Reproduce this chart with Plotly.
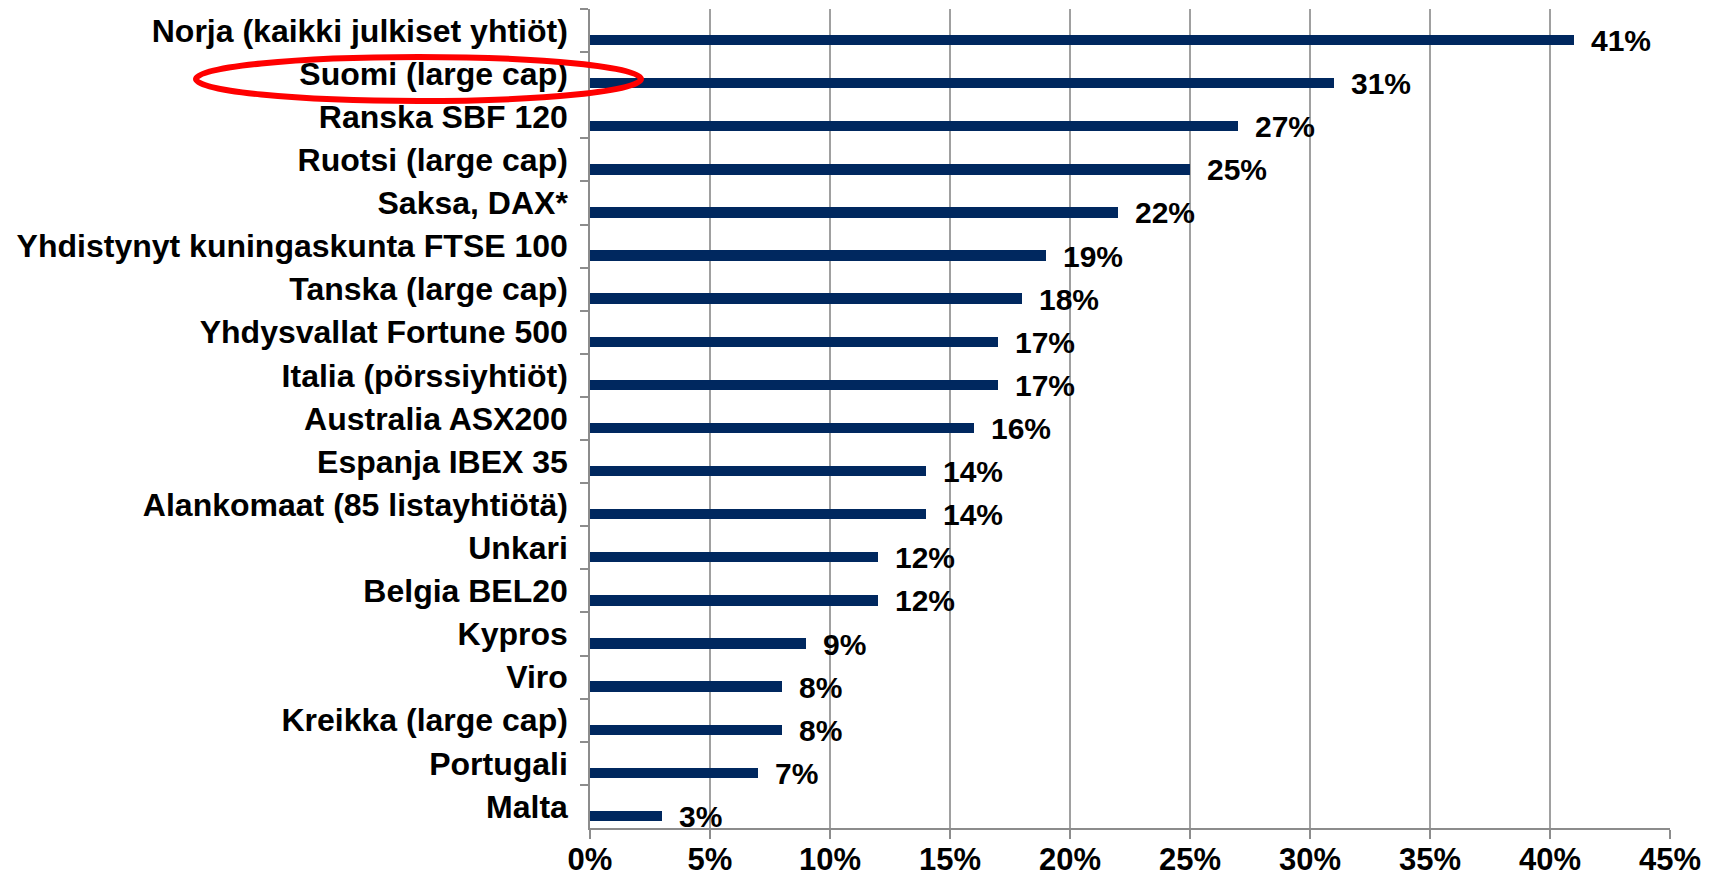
import plotly.graph_objects as go

categories = [
    "Norja (kaikki julkiset yhtiöt)",
    "Suomi (large cap)",
    "Ranska SBF 120",
    "Ruotsi (large cap)",
    "Saksa, DAX*",
    "Yhdistynyt kuningaskunta FTSE 100",
    "Tanska (large cap)",
    "Yhdysvallat Fortune 500",
    "Italia (pörssiyhtiöt)",
    "Australia ASX200",
    "Espanja IBEX 35",
    "Alankomaat (85 listayhtiötä)",
    "Unkari",
    "Belgia BEL20",
    "Kypros",
    "Viro",
    "Kreikka (large cap)",
    "Portugali",
    "Malta",
]
values = [41, 31, 27, 25, 22, 19, 18, 17, 17, 16, 14, 14, 12, 12, 9, 8, 8, 7, 3]
x_ticks = [0, 5, 10, 15, 20, 25, 30, 35, 40, 45]
x_tick_labels = [f"{v}%" for v in x_ticks]

FONT = "Arial, Liberation Sans, sans-serif"
W, H = 1717, 881
ML, MR, MT, MB = 590, 47, 9, 53
PW, PH = W - ML - MR, H - MT - MB

fig = go.Figure()
fig.add_trace(go.Bar(
    x=values, y=categories, orientation="h",
    marker=dict(color="#00285F", line=dict(width=0)),
    width=0.24, offset=0.10,
    hoverinfo="x+y",
))

for c, v in zip(categories, values):
    fig.add_annotation(
        x=v, y=c, xref="x", yref="y", text=f"{v}%", showarrow=False,
        xanchor="left", yanchor="middle", xshift=15, yshift=-10,
        font=dict(family=FONT, size=30, color="#000000", weight="bold"),
    )

# red ellipse around highlighted label (pixel positions converted to paper)
def px_to_paper_x(px):
    return (px - ML) / PW

def px_to_paper_y(py):
    return 1 - (py - MT) / PH

fig.add_shape(
    type="circle", xref="paper", yref="paper",
    x0=px_to_paper_x(196), x1=px_to_paper_x(641),
    y0=px_to_paper_y(101), y1=px_to_paper_y(57),
    line=dict(color="#FF0000", width=6), fillcolor="rgba(0,0,0,0)",
    layer="above",
)

fig.update_layout(
    width=W, height=H,
    margin=dict(l=ML, r=MR, t=MT, b=MB, pad=0, autoexpand=False),
    paper_bgcolor="white", plot_bgcolor="white",
    showlegend=False,
    bargap=0,
    font=dict(family=FONT, color="#000000"),
)
fig.update_xaxes(
    range=[0, 45], tickvals=x_ticks, ticktext=x_tick_labels,
    showgrid=True, gridcolor="#A0A0A0", gridwidth=1.5,
    showline=True, linecolor="#8C8C8C", linewidth=1.5,
    ticks="outside", ticklen=9, tickcolor="#8C8C8C", tickwidth=1.5,
    tickfont=dict(family=FONT, size=31, color="#000000", weight="bold"),
    ticklabelstandoff=-6, automargin=False,
    zeroline=False, fixedrange=True,
)
fig.update_yaxes(
    categoryorder="array", categoryarray=categories,
    range=[len(categories) - 0.5, -0.5],
    showgrid=False, showline=True, linecolor="#8C8C8C", linewidth=1.5,
    ticks="outside", ticklen=8, tickcolor="#8C8C8C", tickwidth=1.5,
    tickson="boundaries",
    tickfont=dict(family=FONT, size=32, color="#000000", weight="bold"),
    ticklabelstandoff=14, automargin=False,
    zeroline=False, fixedrange=True,
)

fig.write_html(
    "out.html",
    config={"displayModeBar": False},
    post_script="document.body.style.margin='0';document.body.style.padding='0';document.documentElement.style.overflow='hidden';",
)
